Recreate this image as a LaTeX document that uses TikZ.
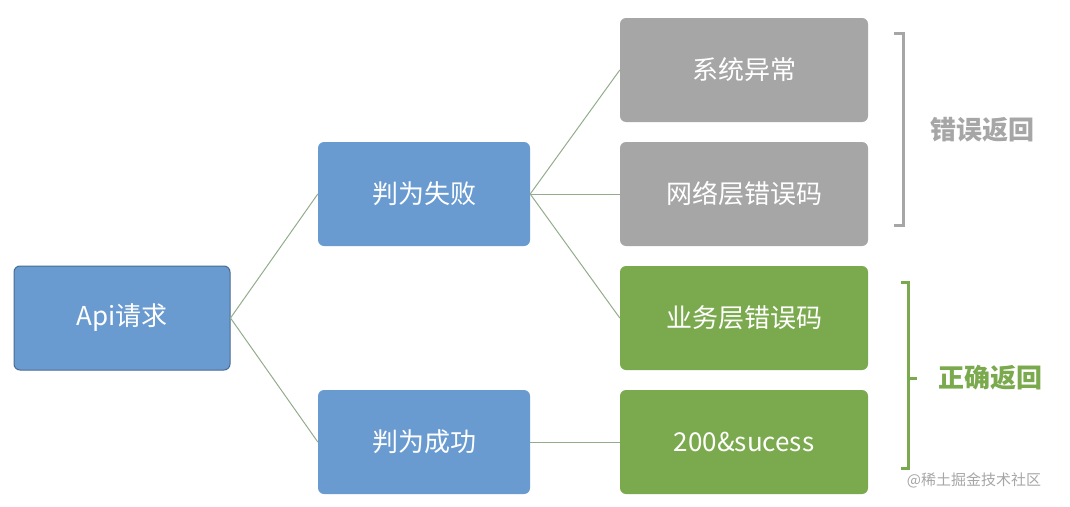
\documentclass[tikz,border=0pt]{standalone}
\usepackage{fontspec}
\setmainfont{Noto Sans CJK SC}
\definecolor{boxblue}{HTML}{6A9BD0}
\definecolor{boxgray}{HTML}{A6A6A6}
\definecolor{boxgreen}{HTML}{7BAA4E}
\definecolor{linkcol}{HTML}{93AC8C}
\tikzset{
  box/.style={rounded corners=6pt, minimum height=104pt, text=white, font=\fontsize{26}{30}\selectfont},
  stage/.style={box, fill=boxblue, minimum width=212pt},
  result/.style={box, minimum width=248pt},
  link/.style={linkcol, line width=1pt}
}
\begin{document}
\begin{tikzpicture}[x=1pt, y=-1pt]
    \useasboundingbox (0,0) rectangle (1070,506);

    \node[box, fill=boxblue, draw=boxblue!70!black, line width=1pt, minimum width=216pt] (api) at (122,318) {Api请求};
    \node[stage] (fail) at (424,194) {判为失败};
    \node[stage] (ok) at (424,442) {判为成功};

    \node[result, fill=boxgray] (sys) at (744,70) {系统异常};
    \node[result, fill=boxgray] (net) at (744,194) {网络层错误码};
    \node[result, fill=boxgreen] (biz) at (744,318) {业务层错误码};
    \node[result, fill=boxgreen] (succ) at (744,442) {200\&sucess};

    \draw[link] (api.east) -- (fail.west);
    \draw[link] (api.east) -- (ok.west);
    \foreach \t in {sys, net, biz}
      \draw[link] (fail.east) -- (\t.west);
    \draw[link] (ok.east) -- (succ.west);

    % brackets
    \draw[boxgray, line width=3pt] (894,33) -- (903,33) -- (903,225) -- (894,225);
    \node[text=boxgray, font=\fontsize{26}{30}\selectfont\bfseries] (err) at (982,130) {错误返回};
    \draw[boxgreen, line width=3pt] (901,282) -- (908,282) -- (908,468) -- (901,468);
    \draw[boxgreen, line width=3pt] (908,378) -- (917,378);
    \node[text=boxgreen, font=\fontsize{26}{30}\selectfont\bfseries] (right) at (990,378) {正确返回};

    \node[text=gray!70, font=\fontsize{15}{18}\selectfont] (mark) at (974,480) {@稀土掘金技术社区};
\end{tikzpicture}
\end{document}
